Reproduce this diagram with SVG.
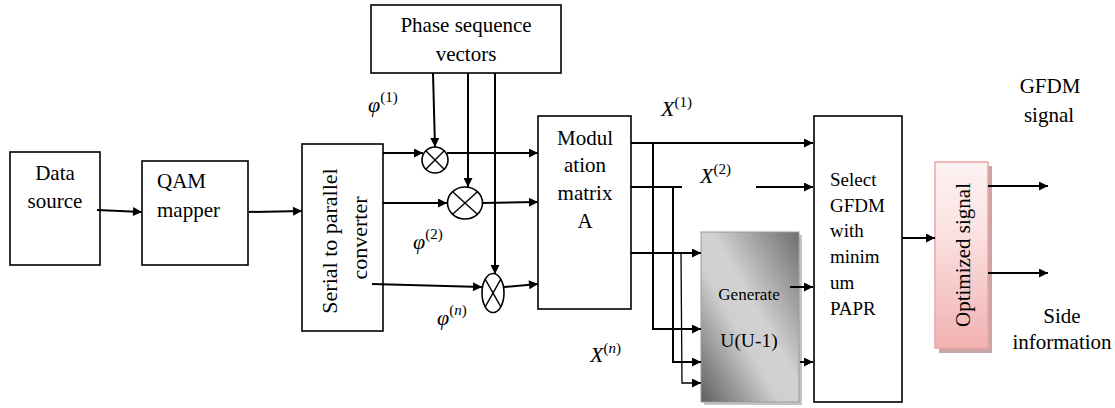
<svg xmlns="http://www.w3.org/2000/svg" width="1115" height="408" viewBox="0 0 1115 408">
<style>
text{font-family:"Liberation Serif","Tinos","DejaVu Serif Condensed","DejaVu Serif",serif;fill:#000;}
.t21{font-size:21px;}
.t19{font-size:19px;}
.mid{text-anchor:middle;}
.box{fill:#fff;stroke:#000;stroke-width:1.6;}
.ln{fill:none;stroke:#000;stroke-width:2;}
.thin{fill:none;stroke:#000;stroke-width:1.3;}
.mul{fill:#fff;stroke:#000;stroke-width:1.6;}
.x{stroke:#000;stroke-width:1.4;}
.m{font-size:22px;}
.it{font-style:italic;}
.sup{font-size:15px;}
</style>
<defs>
<marker id="ah" viewBox="0 0 10 10" refX="10" refY="5" markerWidth="11" markerHeight="9" markerUnits="userSpaceOnUse" orient="auto">
<path d="M0,0 L10,5 L0,10 z" fill="#000"/>
</marker>
<linearGradient id="gGen" x1="1" y1="0" x2="0" y2="1">
<stop offset="0" stop-color="#6e6e6e"/>
<stop offset="0.45" stop-color="#d2d2d2"/>
<stop offset="0.6" stop-color="#cfcfcf"/>
<stop offset="1" stop-color="#5e5e5e"/>
</linearGradient>
<linearGradient id="gOpt" x1="0" y1="0" x2="0" y2="1">
<stop offset="0" stop-color="#fdf2f2"/>
<stop offset="0.35" stop-color="#fbe3e3"/>
<stop offset="1" stop-color="#f2b2b2"/>
</linearGradient>
</defs>

<g id="data-source">
<rect class="box" x="10" y="152" width="90" height="113"/>
<text class="t21 mid" x="55" y="180">Data</text>
<text class="t21 mid" x="55" y="208">source</text>
</g>

<g id="qam-mapper">
<rect class="box" x="142" y="161" width="106" height="104"/>
<text class="t21" x="157" y="188">QAM</text>
<text class="t21" x="157" y="217">mapper</text>
</g>

<g id="serial-parallel">
<rect class="box" x="302" y="144" width="81" height="187"/>
<text class="t21 mid" transform="translate(337,241) rotate(-90)" style="font-size:22px">Serial to parallel</text>
<text class="t21 mid" transform="translate(367,238) rotate(-90)" style="font-size:22px">converter</text>
</g>

<g id="phase-sequence">
<rect class="box" x="371" y="5" width="190" height="68"/>
<text class="t21 mid" x="466" y="32">Phase sequence</text>
<text class="t21 mid" x="466" y="61">vectors</text>
</g>

<g id="mult-1">
<circle class="mul" cx="435" cy="160" r="13"/>
<line class="x" x1="425.8" y1="150.8" x2="444.2" y2="169.2"/>
<line class="x" x1="444.2" y1="150.8" x2="425.8" y2="169.2"/>
</g>

<g id="mult-2">
<ellipse class="mul" cx="465" cy="203" rx="17.5" ry="16"/>
<line class="x" x1="452.6" y1="191.7" x2="477.4" y2="214.3"/>
<line class="x" x1="477.4" y1="191.7" x2="452.6" y2="214.3"/>
</g>

<g id="mult-n">
<ellipse class="mul" cx="493" cy="293" rx="11" ry="19.5"/>
<line class="x" x1="485.2" y1="279.2" x2="500.8" y2="306.8"/>
<line class="x" x1="500.8" y1="279.2" x2="485.2" y2="306.8"/>
</g>

<g id="modulation-matrix">
<rect class="box" x="538" y="116" width="93" height="193"/>
<text class="t21 mid" x="585" y="145">Modul</text>
<text class="t21 mid" x="585" y="172">ation</text>
<text class="t21 mid" x="585" y="200">matrix</text>
<text class="t21 mid" x="585" y="228">A</text>
</g>

<g id="generate">
<rect x="704" y="235" width="98" height="170" fill="#c4c4c4"/>
<rect x="701" y="232" width="98" height="170" fill="url(#gGen)" stroke="#9a9a9a" stroke-width="1"/>
<text class="mid" x="749" y="300" style="font-size:17px">Generate</text>
<text class="mid" x="749" y="347" style="font-size:19.5px">U(U-1)</text>
</g>

<g id="select-gfdm">
<rect class="box" x="814" y="116" width="88" height="286"/>
<text class="t19" x="830" y="186">Select</text>
<text class="t19" x="830" y="212">GFDM</text>
<text class="t19" x="830" y="237">with</text>
<text class="t19" x="830" y="263">minim</text>
<text class="t19" x="830" y="289">um</text>
<text class="t19" x="830" y="315">PAPR</text>
</g>

<g id="optimized-signal">
<rect x="939" y="166" width="53" height="187" fill="#c9a6a6"/>
<rect x="935" y="162" width="53" height="186" fill="url(#gOpt)" stroke="#f0a4a4" stroke-width="1.5"/>
<text class="t21 mid" transform="translate(970,255) rotate(-90)">Optimized signal</text>
</g>

<g id="labels">
<text class="t21 mid" x="1050" y="93">GFDM</text>
<text class="t21 mid" x="1049" y="122">signal</text>
<text class="t21 mid" x="1062" y="323">Side</text>
<text class="t21 mid" x="1062" y="349">information</text>
<text class="m" x="368" y="112"><tspan class="it">φ</tspan><tspan class="sup" dy="-10">(1)</tspan></text>
<text class="m" x="413" y="249"><tspan class="it">φ</tspan><tspan class="sup" dy="-10">(2)</tspan></text>
<text class="m" x="437" y="325"><tspan class="it">φ</tspan><tspan class="sup" dy="-10">(</tspan><tspan class="sup it">n</tspan><tspan class="sup">)</tspan></text>
<text class="m" x="661" y="116"><tspan class="it">X</tspan><tspan class="sup" dy="-9">(1)</tspan></text>
<text class="m" x="700" y="183"><tspan class="it">X</tspan><tspan class="sup" dy="-9">(2)</tspan></text>
<text class="m" x="590" y="362"><tspan class="it">X</tspan><tspan class="sup" dy="-9">(</tspan><tspan class="sup it">n</tspan><tspan class="sup">)</tspan></text>
</g>

<g id="connectors">
<path class="ln" d="M97,210 L142,212" marker-end="url(#ah)"/>
<path class="ln" d="M249,212 L302,211" marker-end="url(#ah)"/>
<path class="ln" d="M433,73 L435,147" marker-end="url(#ah)"/>
<path class="ln" d="M468,73 L468,187" marker-end="url(#ah)"/>
<path class="ln" d="M495,73 L495,274" marker-end="url(#ah)"/>
<path class="ln" d="M383,153 L423,153" marker-end="url(#ah)"/>
<path class="ln" d="M447,153 L538,153" marker-end="url(#ah)"/>
<path class="ln" d="M383,203 L447,203" marker-end="url(#ah)"/>
<path class="ln" d="M482,203 L538,202" marker-end="url(#ah)"/>
<path class="ln" d="M372,284 L482,287" marker-end="url(#ah)"/>
<path class="ln" d="M504,287 L538,284" marker-end="url(#ah)"/>
<path class="ln" d="M631,143 L813,143" marker-end="url(#ah)"/>
<path class="ln" d="M653,143 L653,329 L701,329" marker-end="url(#ah)"/>
<path class="ln" d="M631,187 L682,187"/>
<path class="ln" d="M756,187 L813,187" marker-end="url(#ah)"/>
<path class="ln" d="M673,187 L673,362 L701,362" marker-end="url(#ah)"/>
<path class="ln" d="M631,253 L701,253" marker-end="url(#ah)"/>
<path class="thin" d="M681,253 L682,383 L701,383" marker-end="url(#ah)"/>
<path class="ln" d="M790,287 L813,287" marker-end="url(#ah)"/>
<path class="ln" d="M800,362 L813,362" marker-end="url(#ah)"/>
<path class="ln" d="M902,238 L935,238" marker-end="url(#ah)"/>
<path class="ln" d="M988,186 L1048,186" marker-end="url(#ah)"/>
<path class="ln" d="M988,273 L1048,273" marker-end="url(#ah)"/>
</g>
</svg>
